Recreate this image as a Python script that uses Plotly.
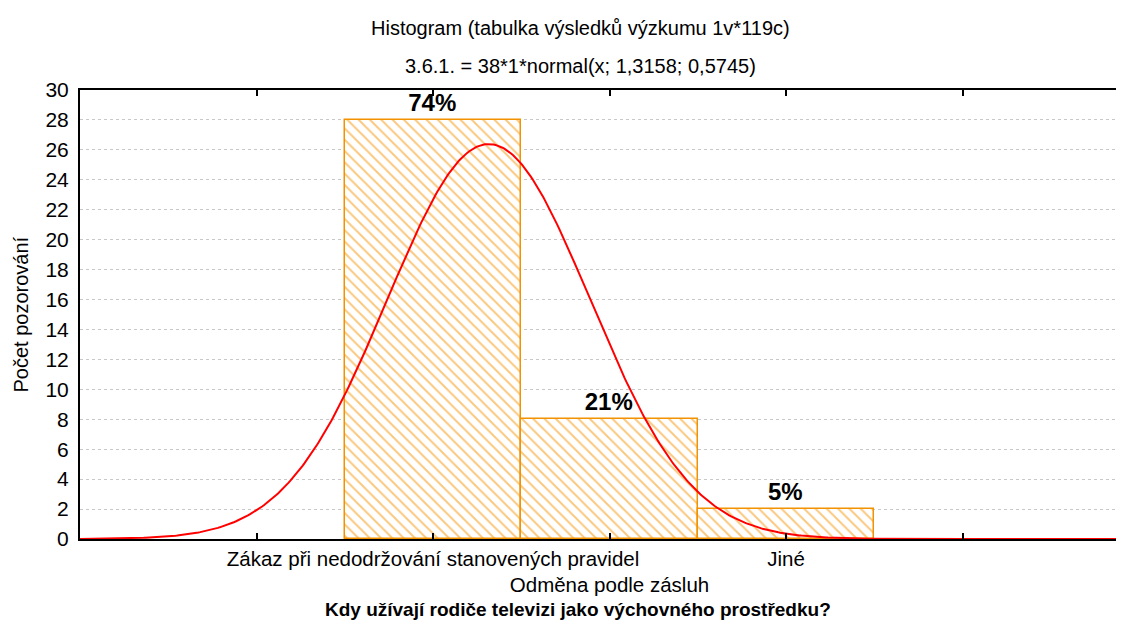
import numpy as np
import plotly.graph_objects as go

# ---- data ----
categories = ["Zákaz při nedodržování stanovených pravidel", "Odměna podle zásluh", "Jiné"]
cat_pos = [1, 2, 3]
counts = [28, 8, 2]
pct_labels = ["74%", "21%", "5%"]
tick_vals = [0, 1, 2, 3, 4]
tick_text = ["", "Zákaz při nedodržování stanovených pravidel", "<br>Odměna podle zásluh", "Jiné", ""]
y_ticks = list(range(0, 31, 2))
# fitted normal curve parameters (from the chart subtitle)
fit_n = 38
fit_mean = 1.3158
fit_sd = 0.5745

ORANGE = "#F39200"
FONT = "Liberation Sans, Arial, sans-serif"

xc = np.linspace(-1, 5, 600)
yc = fit_n * 1 * np.exp(-0.5 * ((xc - fit_mean) / fit_sd) ** 2) / (fit_sd * np.sqrt(2 * np.pi))

fig = go.Figure()
fig.add_trace(go.Bar(
    x=cat_pos, y=counts, width=1,
    marker=dict(color="white", line=dict(color=ORANGE, width=1.5),
                pattern=dict(shape="\\", fgcolor=ORANGE, bgcolor="white", size=8, solidity=0.25)),
    text=pct_labels, textposition="outside", cliponaxis=False,
    textfont=dict(family=FONT, size=24, color="black", weight="bold"),
    showlegend=False, hoverinfo="skip",
))
fig.add_trace(go.Scatter(x=xc, y=yc, mode="lines", line=dict(color="#FF0000", width=2),
                         showlegend=False, hoverinfo="skip"))
# invisible trace on top axis
fig.add_trace(go.Scatter(x=[0], y=[0], xaxis="x2", mode="markers", marker=dict(opacity=0),
                         showlegend=False, hoverinfo="skip"))

xr = [-1, 4.915]
fig.update_layout(
    width=1116, height=629,
    margin=dict(l=72, r=0, t=82, b=98, autoexpand=False),
    paper_bgcolor="white", plot_bgcolor="white",
    bargap=0,
    font=dict(family=FONT, color="black"),
    xaxis=dict(range=xr, tickmode="array", tickvals=tick_vals, ticktext=tick_text,
               tickangle=0, automargin=False,
               ticks="inside", ticklen=6, tickwidth=1.5, tickcolor="black",
               showline=True, linecolor="black", linewidth=2, showgrid=False, zeroline=False,
               tickfont=dict(size=20.5, family=FONT)),
    xaxis2=dict(range=xr, overlaying="x", side="top", tickmode="array", tickvals=tick_vals,
                ticks="inside", ticklen=6, tickwidth=1.5, tickcolor="black", showticklabels=False,
                showline=True, linecolor="black", linewidth=2, showgrid=False, zeroline=False),
    yaxis=dict(range=[0, 30], tickmode="array", tickvals=y_ticks, automargin=False,
               showline=True, linecolor="black", linewidth=2,
               showgrid=True, gridcolor="#c8c8c8", griddash="dot", gridwidth=1,
               zeroline=False, ticks="", ticklabelstandoff=5,
               tickfont=dict(size=21, family=FONT)),
    annotations=[
        dict(text="Histogram (tabulka výsledků výzkumu 1v*119c)", xref="paper", yref="paper",
             x=0.479, y=1 + (90 - 28) / 449, showarrow=False, font=dict(size=20, family=FONT),
             xanchor="center", yanchor="middle"),
        dict(text="3.6.1. = 38*1*normal(x; 1,3158; 0,5745)", xref="paper", yref="paper",
             x=0.479, y=1 + (90 - 66) / 449, showarrow=False, font=dict(size=20, family=FONT),
             xanchor="center", yanchor="middle"),
        dict(text="<b>Kdy užívají rodiče televizi jako výchovného prostředku?</b>", xref="paper", yref="paper",
             x=0.477, y=-(609 - 539) / 449, showarrow=False, font=dict(size=19, family=FONT),
             xanchor="center", yanchor="middle"),
        dict(text="Počet pozorování", xref="paper", yref="paper", textangle=-90,
             x=-60 / 1044, y=0.5, showarrow=False, font=dict(size=20, family=FONT),
             xanchor="center", yanchor="middle"),
    ],
)
fig.write_html("out.html")
